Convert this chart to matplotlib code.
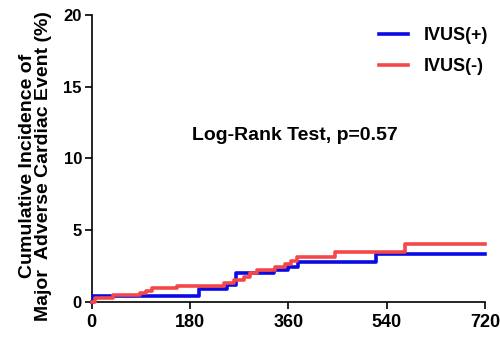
import matplotlib.pyplot as plt

plt.rcParams['font.family'] = ['Liberation Sans', 'DejaVu Sans']
plt.rcParams['font.weight'] = 'bold'

# Step data (days, cumulative incidence %)
pos_days = [0, 2, 197, 247, 265, 333, 360, 377, 520, 720]
pos_vals = [0, 0.43, 0.93, 1.2, 2.02, 2.23, 2.46, 2.78, 3.32, 3.32]

neg_days = [0, 6, 39, 88, 100, 110, 156, 243, 261, 278, 290, 302, 335, 353, 365, 375, 446, 574, 720]
neg_vals = [0, 0.26, 0.46, 0.62, 0.8, 0.97, 1.14, 1.33, 1.5, 1.75, 2.05, 2.26, 2.44, 2.65, 2.86, 3.16, 3.47, 4.03, 4.03]

x_ticks = [0, 180, 360, 540, 720]
y_ticks = [0, 5, 10, 15, 20]

fig = plt.figure(figsize=(5, 3.4), dpi=100)
ax = fig.add_axes([0.1834, 0.1118, 0.7866, 0.8442])

ax.step(pos_days, pos_vals, where='post', color='#0a0ae6', linewidth=2.6,
        label='IVUS(+)', clip_on=False, zorder=3)
ax.step(neg_days, neg_vals, where='post', color='#f44848', linewidth=2.6,
        label='IVUS(-)', clip_on=False, zorder=4)

ax.set_xlim(0, 720)
ax.set_ylim(0, 20)
ax.set_xticks(x_ticks)
ax.set_yticks(y_ticks)
ax.tick_params(axis='x', labelsize=13, length=5, width=1.2)
ax.tick_params(axis='y', labelsize=12, length=5, width=1.2, pad=2)
for lab in ax.get_xticklabels() + ax.get_yticklabels():
    lab.set_fontweight('bold')

ax.spines['top'].set_visible(False)
ax.spines['right'].set_visible(False)
ax.spines['left'].set_linewidth(1.2)
ax.spines['bottom'].set_linewidth(1.2)

ax.set_ylabel("Cumulative Incidence of\nMajor  Adverse Cardiac Event (%)",
              fontsize=14, fontweight='bold', linespacing=0.92)
ax.yaxis.set_label_coords(-0.1, 0.475)

ax.text(372, 11.6, "Log-Rank Test, p=0.57", ha='center', va='center',
        fontsize=14, fontweight='bold')

leg = ax.legend(loc='upper right', bbox_to_anchor=(1.05, 1.015), frameon=False,
                prop={'size': 13, 'weight': 'bold'}, handlelength=1.6,
                handletextpad=0.9, labelspacing=0.8)

plt.savefig("out.png", dpi=100)
